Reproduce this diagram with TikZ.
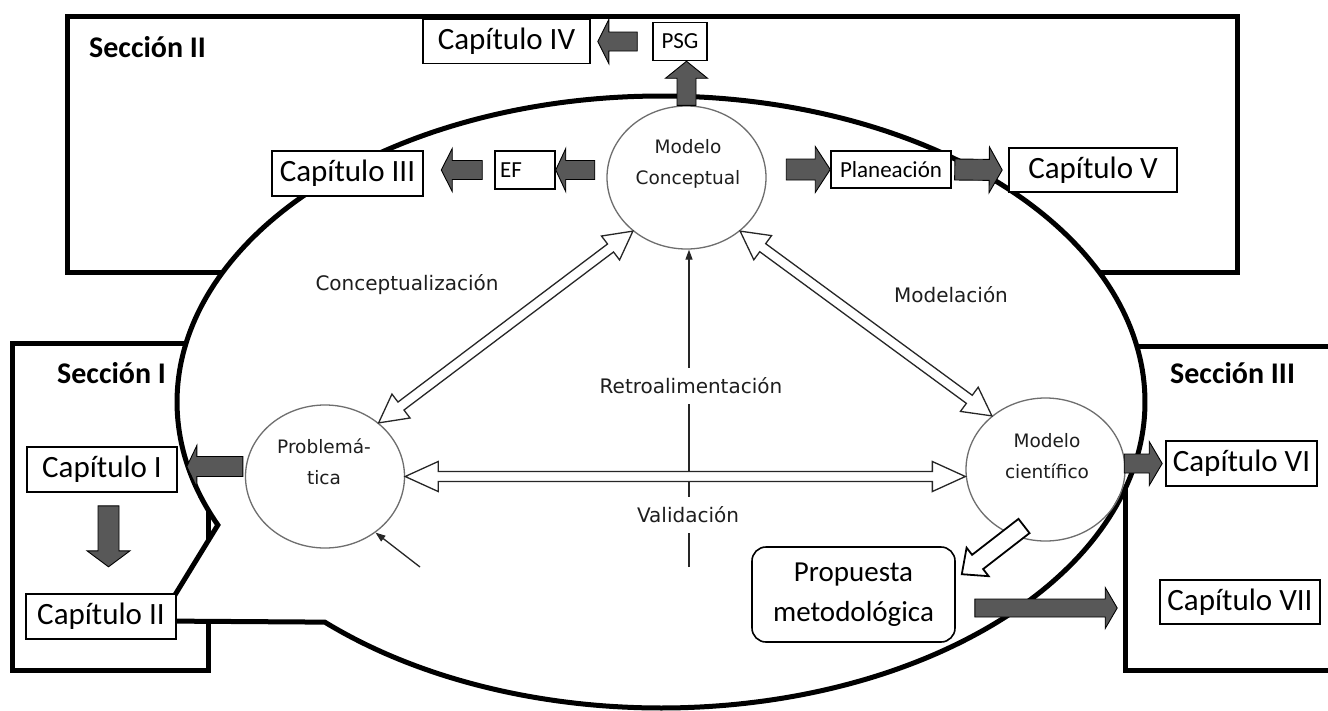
\documentclass[tikz,border=0pt]{standalone}
\usepackage{fontspec}
\setmainfont{Carlito}
\newfontfamily\dv{DejaVu Sans}
\usetikzlibrary{calc,arrows.meta,shapes.geometric}
\definecolor{garrow}{RGB}{88,88,88}
\definecolor{circline}{RGB}{110,110,110}
\definecolor{dtext}{RGB}{30,30,30}

% single block arrow: style, tail, tip, half shaft, half head, head length
\newcommand\blockarr[6]{%
  \path[#1] ($(#2)!#4!90:(#3)$)
    -- ($($(#3)!#6!(#2)$)!#4!-90:(#2)$)
    -- ($($(#3)!#6!(#2)$)!#5!-90:(#2)$)
    -- (#3)
    -- ($($(#3)!#6!(#2)$)!#5!90:(#2)$)
    -- ($($(#3)!#6!(#2)$)!#4!90:(#2)$)
    -- ($(#2)!#4!-90:(#3)$) -- cycle;}
% double-headed hollow arrow: style, end A, end B, half shaft, half head, head length
\newcommand\dblarr[6]{%
  \path[#1] (#2)
    -- ($($(#2)!#6!(#3)$)!#5!90:(#3)$)
    -- ($($(#2)!#6!(#3)$)!#4!90:(#3)$)
    -- ($($(#3)!#6!(#2)$)!#4!-90:(#2)$)
    -- ($($(#3)!#6!(#2)$)!#5!-90:(#2)$)
    -- (#3)
    -- ($($(#3)!#6!(#2)$)!#5!90:(#2)$)
    -- ($($(#3)!#6!(#2)$)!#4!90:(#2)$)
    -- ($($(#2)!#6!(#3)$)!#4!-90:(#3)$)
    -- ($($(#2)!#6!(#3)$)!#5!-90:(#3)$)
    -- cycle;}

\tikzset{
  secbox/.style={line width=5pt, line join=miter},
  chbox/.style={draw=black, fill=white, line width=1.6pt, inner sep=0pt, font=\fontsize{31}{37}\selectfont},
  smbox/.style={draw=black, fill=white, line width=1.5pt, inner sep=0pt, font=\fontsize{23}{27}\selectfont},
  circ/.style={ellipse, draw=circline, line width=1.3pt, minimum width=159pt, minimum height=143pt, inner sep=0pt},
  ctext/.style={font=\dv\fontsize{18.5}{31}\selectfont, text=dtext, align=center, inner sep=0pt},
  lab/.style={font=\dv\fontsize{20}{24}\selectfont, text=dtext, inner sep=0pt},
  seclab/.style={font=\bfseries\fontsize{30}{36}\selectfont, anchor=base west, inner sep=0pt},
  garr/.style={fill=garrow, draw=black, line width=0.9pt, line join=miter},
  harr/.style={fill=white, draw=black!85, line width=1.3pt, line join=miter},
  wharr/.style={fill=white, draw=black, line width=1.8pt, line join=miter},
  thinarr/.style={draw=black!85, line width=1.3pt, -{Triangle[length=10pt,width=7pt]}},
}

\begin{document}
\begin{tikzpicture}[x=1pt,y=-1pt]
\useasboundingbox (0,0) rectangle (1328,710);
\fill[white] (0,0) rectangle (1328,710);
% sections
\draw[secbox] (67,16) rectangle (1237,272);
\draw[secbox] (12,343) rectangle (208,670);
\draw[secbox] (1340,346) -- (1125,346) -- (1125,670) -- (1340,670);
% callout ellipse
\filldraw[fill=white, line width=5pt, line join=miter]
  plot[variable=\t, domain=156.3:494, samples=300] ({661+484*cos(\t)},{402+306*sin(\t)})
  -- (159,621) -- cycle;

% circles
\node[circ] (mc) at (686.5,177.5) {};
\node[circ] (pc) at (325,476.5) {};
\node[circ] (mcien) at (1045.5,469.5) {};
\node[ctext] (mct) at (688,164) {Modelo\\Conceptual};
\node[ctext] (pct) at (324,462) {Problemá-\\tica};
\node[ctext] (mcient) at (1047,456) {Modelo\\científico};

% thin arrows
\coordinate (rb) at (689,567);
\draw[thinarr] (rb) -- (rb |- mc.south);
\coordinate (pb) at (420,567);
\draw[thinarr] (pb) -- (pc.-48);

% hollow double arrows
\dblarr{harr}{pc.45}{mc.225}{5pt}{15pt}{28pt}
\dblarr{harr}{mc.-45}{mcien.135}{5pt}{15pt}{28pt}
\coordinate (vr) at (pc.east -| mcien.west);
\dblarr{harr}{pc.east}{vr}{5pt}{15pt}{33pt}

% labels
\node[lab] (conc) at (407,285) {Conceptualización};
\node[lab] (modl) at (951,295) {Modelación};
\node[lab, fill=white, inner ysep=10pt, inner xsep=3pt] (retro) at (691,386) {Retroalimentación};
\node[lab, fill=white, inner ysep=10pt, inner xsep=3pt] (valid) at (688,515) {Validación};

% section labels
\node[seclab] (s2) at (89,57) {Sección II};
\node[seclab] (s1) at (57,383) {Sección I};
\node[seclab] (s3) at (1170,383) {Sección III};

% boxes
\node[chbox, minimum width=167pt, minimum height=44pt] (c4) at (506.5,41.5) {Capítulo IV};
\node[smbox, minimum width=54pt, minimum height=38pt] (psg) at (680,41.5) {PSG};
\node[chbox, minimum width=151pt, minimum height=45pt] (c3) at (347.5,173.5) {Capítulo III};
\node[smbox, minimum width=60pt, minimum height=38pt] (ef) at (525,170) {};
\node[font=\fontsize{23}{27}\selectfont, anchor=west, inner sep=0pt] (eft) at (500,170) {EF};
\node[smbox, minimum width=120pt, minimum height=37pt] (pl) at (891,169.5) {Planeación};
\node[chbox, minimum width=168pt, minimum height=44pt] (c5) at (1093,170) {Capítulo V};
\node[chbox, minimum width=150pt, minimum height=45pt] (c1) at (102,469.5) {Capítulo I};
\node[chbox, minimum width=150pt, minimum height=45pt] (c2) at (101,616.5) {Capítulo II};
\node[chbox, minimum width=151pt, minimum height=45pt] (c6) at (1241.5,463.5) {Capítulo VI};
\node[chbox, minimum width=160pt, minimum height=44pt] (c7) at (1240,602) {Capítulo VII};
\node[draw, fill=white, rounded corners=14pt, line width=1.6pt, minimum width=203pt, minimum height=95pt, align=center, inner sep=0pt, font=\fontsize{29}{40}\selectfont] (prop) at (853.5,594.5) {Propuesta\\metodológica};

% gray block arrows
\coordinate (a1s) at ($(psg.west)+(-15,0)$);
\coordinate (a1e) at ($(c4.east)+(7,0)$);
\blockarr{garr}{a1s}{a1e}{9.5pt}{22pt}{11pt}
\coordinate (a2s) at (mc.north);
\coordinate (a2e) at (psg.south -| mc.north);
\blockarr{garr}{a2s}{a2e}{9.5pt}{21pt}{17pt}
\coordinate (a3e) at (ef.east);
\coordinate (a3s) at ($(ef.east)+(39,0)$);
\blockarr{garr}{a3s}{a3e}{9.5pt}{21.5pt}{10pt}
\coordinate (a4s) at ($(ef.west)+(-12,0)$);
\coordinate (a4e) at ($(a4s)+(-41,0)$);
\blockarr{garr}{a4s}{a4e}{9.5pt}{21.5pt}{11pt}
\coordinate (a5e) at (pl.west);
\coordinate (a5s) at ($(pl.west)+(-44,0)$);
\blockarr{garr}{a5s}{a5e}{10.5pt}{23pt}{15pt}
\coordinate (a6s) at ($(pl.east)+(3,0)$);
\coordinate (a6e) at ($(c5.west)+(-6,0)$);
\blockarr{garr}{a6s}{a6e}{10.5pt}{23pt}{13pt}
\coordinate (a7s) at ($(pc.west)+(-2,-10)$);
\coordinate (a7e) at ($(a7s)+(-56,0)$);
\blockarr{garr}{a7s}{a7e}{10pt}{21pt}{10pt}
\coordinate (a8s) at ($(c1.south)+(6.5,13)$);
\coordinate (a8e) at ($(a8s)+(0,61)$);
\blockarr{garr}{a8s}{a8e}{10.5pt}{21.5pt}{16pt}
\coordinate (a9e) at ($(c6.west)+(-3,0)$);
\coordinate (a9s) at ($(a9e)+(-38,0)$);
\blockarr{garr}{a9s}{a9e}{9.5pt}{22pt}{13pt}
\coordinate (a10s) at ($(prop.east)+(19,13.5)$);
\coordinate (a10e) at ($(c7.west)+(-42,6)$);
\blockarr{garr}{a10s}{a10e}{9pt}{20.5pt}{12pt}
\coordinate (a11s) at ($(mcien)+(-21.5,56.5)$);
\coordinate (a11e) at ($(prop.north east)+(6,28)$);
\blockarr{wharr}{a11s}{a11e}{9pt}{18pt}{20pt}
\end{tikzpicture}
\end{document}
